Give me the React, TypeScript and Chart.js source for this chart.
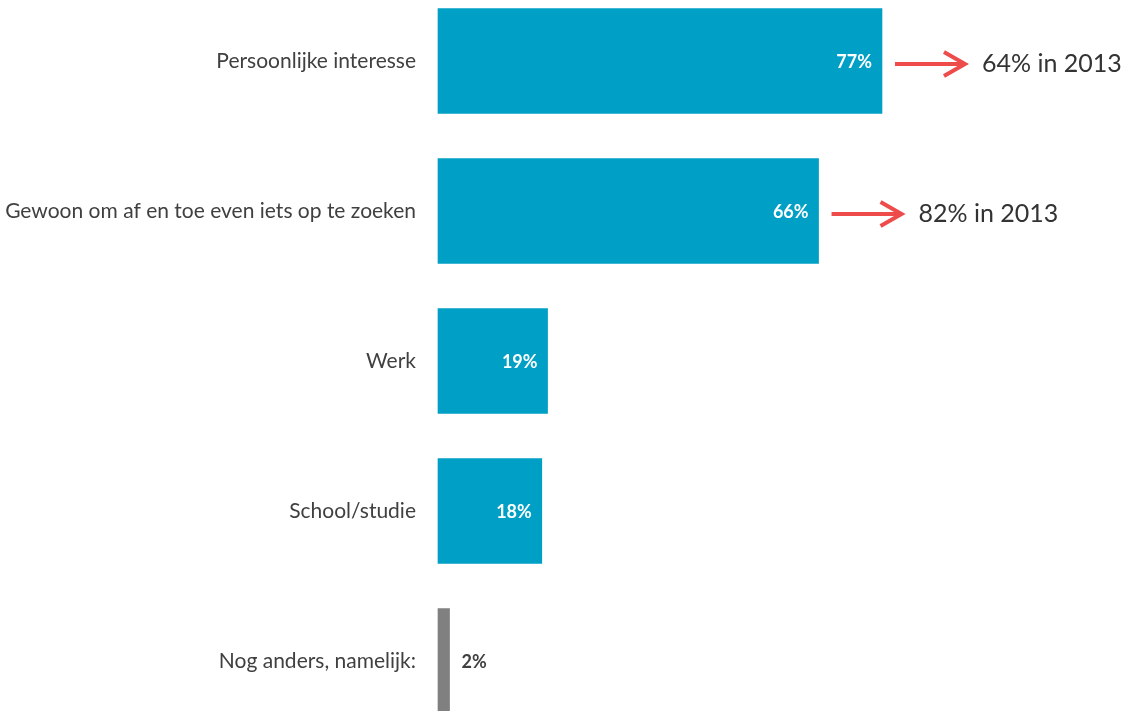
import React, { useEffect, useRef } from "react";
import { Chart, registerables } from "chart.js";

Chart.register(...registerables);

const categories = [
  "Persoonlijke interesse",
  "Gewoon om af en toe even iets op te zoeken",
  "Werk",
  "School/studie",
  "Nog anders, namelijk:",
];
const values = [77, 66, 19, 18, 2];
const barColors = ["#00A0C6", "#00A0C6", "#00A0C6", "#00A0C6", "#808080"];
const labelInside = [true, true, true, true, false];
const comparisons = ["64% in 2013", "82% in 2013", "", "", ""];

const FONT = "Lato, 'Open Sans', sans-serif";

const annotatePlugin = {
  id: "annotate",
  afterDatasetsDraw(chart: any) {
    const ctx = chart.ctx;
    const meta = chart.getDatasetMeta(0);
    meta.data.forEach((bar: any, i: number) => {
      const xEnd = bar.x;
      const yc = bar.y;
      ctx.save();
      ctx.font = `bold 18px ${FONT}`;
      ctx.textBaseline = "middle";
      const txt = `${values[i]}%`;
      if (labelInside[i]) {
        ctx.fillStyle = "#FFFFFF";
        ctx.textAlign = "right";
        ctx.fillText(txt, xEnd - 10, yc + 1);
      } else {
        ctx.fillStyle = "#404040";
        ctx.textAlign = "left";
        ctx.fillText(txt, xEnd + 12, yc + 1);
      }
      const cmp = comparisons[i];
      if (cmp) {
        const ay = yc + 3;
        const x0 = xEnd + 13;
        const x1 = xEnd + 83;
        ctx.strokeStyle = "#EE4B4B";
        ctx.lineWidth = 4;
        ctx.lineCap = "butt";
        ctx.beginPath();
        ctx.moveTo(x0, ay);
        ctx.lineTo(x1 - 2, ay);
        ctx.stroke();
        ctx.lineJoin = "miter";
        ctx.beginPath();
        ctx.moveTo(x1 - 21, ay - 12);
        ctx.lineTo(x1, ay);
        ctx.lineTo(x1 - 21, ay + 12);
        ctx.stroke();
        ctx.fillStyle = "#333333";
        ctx.font = `25px ${FONT}`;
        ctx.textAlign = "left";
        ctx.fillText(cmp, xEnd + 100, ay);
      }
      ctx.restore();
    });
  },
};

export default function App() {
  const ref = useRef<HTMLCanvasElement>(null);
  useEffect(() => {
    if (!ref.current) return;
    const chart = new Chart(ref.current, {
      type: "bar",
      data: {
        labels: categories,
        datasets: [
          {
            data: values,
            backgroundColor: barColors,
            barThickness: 105,
            clip: false as any,
          },
        ],
      },
      options: {
        indexAxis: "y",
        animation: false,
        responsive: false,
        maintainAspectRatio: false,
        layout: { padding: { top: 61, bottom: 50, left: 0, right: 109.4 } },
        plugins: { legend: { display: false }, tooltip: { enabled: false } },
        scales: {
          x: { display: false, min: 0, max: 100 },
          y: {
            offset: false,
            grid: { display: false, drawTicks: false },
            border: { display: false },
            ticks: {
              padding: 22,
              color: "#404040",
              font: { family: FONT, size: 21 },
            },
            afterFit(scale: any) {
              scale.width = 438;
            },
          },
        },
      },
      plugins: [annotatePlugin],
    });
    return () => chart.destroy();
  }, []);
  return (
    <div style={{ position: "absolute", left: 0, top: 0, width: 1124, height: 711, background: "#fff" }}>
      <canvas ref={ref} width={1124} height={711} style={{ width: 1124, height: 711 }} />
    </div>
  );
}
